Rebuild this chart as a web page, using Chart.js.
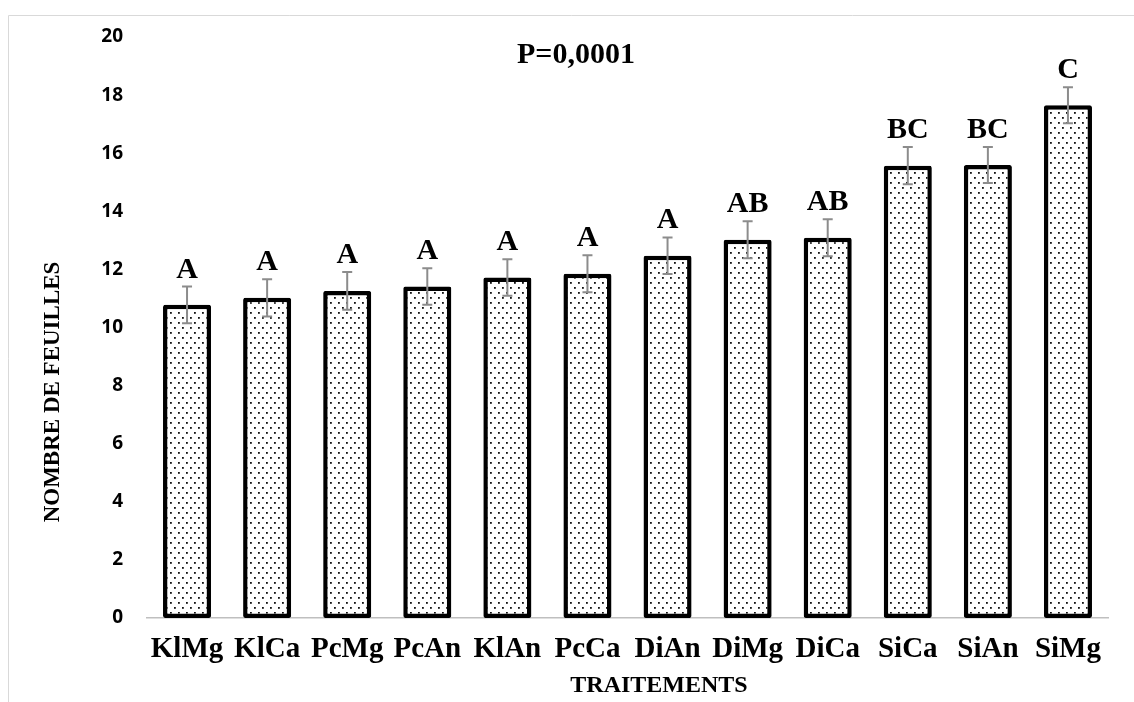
<!DOCTYPE html>
<html>
<head>
<meta charset="utf-8">
<script src="https://cdn.jsdelivr.net/npm/chart.js@4/dist/chart.umd.min.js"></script>
<style>
  body { margin: 0; background: #fff; }
  canvas { display: block; }
</style>
</head>
<body>
<canvas id="myChart" width="1134" height="702"></canvas>
<script>
// données
const traitements = ['KlMg', 'KlCa', 'PcMg', 'PcAn', 'KlAn', 'PcCa', 'DiAn', 'DiMg', 'DiCa', 'SiCa', 'SiAn', 'SiMg'];
const moyennes = [10.78, 11.02, 11.26, 11.41, 11.72, 11.85, 12.47, 13.02, 13.09, 15.57, 15.59, 17.65];
const erreurs = [0.63, 0.64, 0.65, 0.63, 0.63, 0.64, 0.63, 0.64, 0.64, 0.64, 0.62, 0.62];
const groupes = ['A', 'A', 'A', 'A', 'A', 'A', 'A', 'AB', 'AB', 'BC', 'BC', 'C'];
const yTicks = [0, 2, 4, 6, 8, 10, 12, 14, 16, 18, 20];
const pValeur = 'P=0,0001';

const serif = '"Liberation Serif", "Times New Roman", serif';

// motif pointillé des barres
function makeDots() {
    const c = document.createElement('canvas');
    c.width = 8; c.height = 10;
    const g = c.getContext('2d');
    g.fillStyle = '#fff';
    g.fillRect(0, 0, 8, 10);
    g.fillStyle = '#111';
    g.fillRect(2, 2, 1.8, 1.8);
    g.fillRect(6, 7, 1.8, 1.8);
    return g.createPattern(c, 'repeat');
}

const ctx = document.getElementById('myChart').getContext('2d');
const dots = makeDots();

// barres d'erreur, lettres et textes
const extras = {
    id: 'extras',
    afterDatasetsDraw(chart) {
        const c = chart.ctx;
        const y = chart.scales.y;
        const meta = chart.getDatasetMeta(0);
        c.save();
        meta.data.forEach((bar, i) => {
            const top = y.getPixelForValue(moyennes[i] + erreurs[i]);
            const bot = y.getPixelForValue(moyennes[i] - erreurs[i]);
            c.strokeStyle = '#8c8c8c';
            c.lineWidth = 2;
            c.beginPath();
            c.moveTo(bar.x, top); c.lineTo(bar.x, bot);
            c.moveTo(bar.x - 5, top); c.lineTo(bar.x + 5, top);
            c.moveTo(bar.x - 5, bot); c.lineTo(bar.x + 5, bot);
            c.stroke();
            c.fillStyle = '#000';
            c.font = 'bold 30px ' + serif;
            c.textAlign = 'center';
            c.textBaseline = 'alphabetic';
            c.fillText(groupes[i], bar.x, top - 9);
        });
        c.restore();
    },
    afterDraw(chart) {
        const c = chart.ctx;
        c.save();
        // cadre
        c.strokeStyle = '#d9d9d9';
        c.lineWidth = 1;
        c.beginPath();
        c.moveTo(8.5, 702); c.lineTo(8.5, 15.5); c.lineTo(1134, 15.5);
        c.stroke();
        c.fillStyle = '#000';
        c.textAlign = 'center';
        c.textBaseline = 'alphabetic';
        c.font = 'bold 30px ' + serif;
        c.fillText(pValeur, 576, 63);
        c.font = 'bold 24px ' + serif;
        c.fillText('TRAITEMENTS', 659, 692);
        c.translate(53, 392);
        c.rotate(-Math.PI / 2);
        c.textBaseline = 'middle';
        c.font = 'bold 23px ' + serif;
        c.fillText('NOMBRE DE FEUILLES', 0, 0);
        c.restore();
    }
};

new Chart(ctx, {
    type: 'bar',
    data: {
        labels: traitements,
        datasets: [{
            data: moyennes,
            backgroundColor: dots,
            borderColor: '#000',
            borderWidth: 4.5,
            borderSkipped: false,
            borderRadius: 2,
            barPercentage: 0.6,
            categoryPercentage: 1
        }]
    },
    options: {
        responsive: false,
        animation: false,
        layout: { padding: { top: 37, right: 26, left: 0, bottom: 0 } },
        plugins: {
            legend: { display: false },
            tooltip: { enabled: false }
        },
        scales: {
            x: {
                grid: { display: false, drawTicks: false },
                border: { color: '#bfbfbf', width: 1.5 },
                ticks: {
                    color: '#000',
                    padding: 14,
                    maxRotation: 0,
                    font: { family: serif, size: 29, weight: 'bold' }
                },
                afterFit(scale) { scale.height = 84; }
            },
            y: {
                min: 0,
                max: 20,
                afterBuildTicks(scale) { scale.ticks = yTicks.map(v => ({ value: v })); },
                grid: { display: false, drawTicks: false },
                border: { display: false },
                ticks: {
                    color: '#000',
                    padding: 24,
                    font: { family: '"Open Sans", sans-serif', size: 19, weight: 'bold' }
                },
                afterFit(scale) { scale.width = 147; }
            }
        }
    },
    plugins: [extras]
});
</script>
</body>
</html>
